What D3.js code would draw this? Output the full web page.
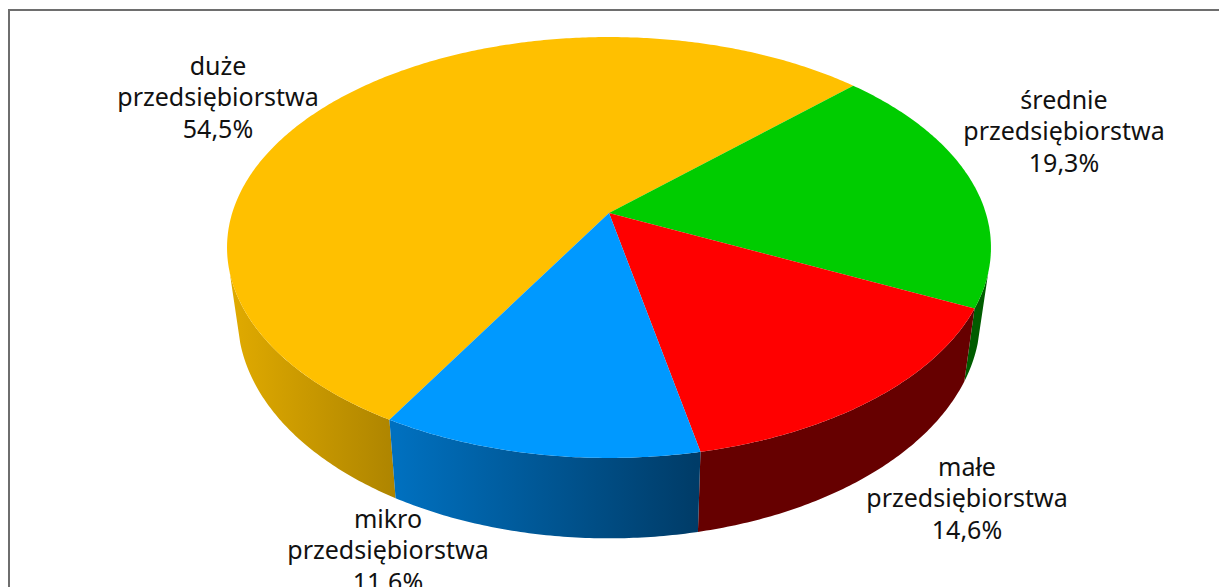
<!DOCTYPE html>
<html>
<head>
<meta charset="utf-8">
<script src="https://cdn.jsdelivr.net/npm/d3@7"></script>
<style>
    html, body { margin: 0; padding: 0; background: #fff; overflow: hidden; }
    text { font-family: "Noto Sans", sans-serif; font-size: 25px; fill: #111; }
</style>
</head>
<body>
<div id="chart"></div>
<script>
// values
var categories = ["duże", "średnie", "małe", "mikro"]
var shares = [54.5, 19.3, 14.6, 11.6]
var secondLine = "przedsiębiorstwa"

var topColors = ["#FFC000", "#00CC00", "#FF0000", "#0099FF"]
var wallLeft = ["#e0aa00", "#005c00", "#660000", "#0070bf"]
var wallRight = ["#ad8400", "#005c00", "#660000", "#003c68"]
var wallX = [[232, 397], [965, 985], [696, 965], [397, 696]]
var labelPos = [[218, 75], [1064, 109], [967, 476], [388, 528]]

var w = 1219
var h = 587

// disc to screen: perspective so the pie centre sits above the ellipse centre
var apexX = 609
var apexY = 213
var k = 0.1639
var a = 204.8
var b = 376.8

function project(angle) {
    var u = Math.sin(angle)
    var v = -Math.cos(angle)
    var d = 1 - k * v
    return [apexX + b * u / d, apexY + a * v / d]
}

// bottom rim is the top rim narrowed a bit and pushed down
var bottomX = d3.scaleLinear().domain([apexX - 100, apexX + 100]).range([apexX - 97.2, apexX + 97.2])
var bottomY = d3.scaleLinear().domain([0, 100]).range([57.5, 162.5])

function projectBottom(angle) {
    var p = project(angle)
    return [bottomX(p[0]), bottomY(p[1])]
}

function sample(from, to) {
    var n = Math.max(2, Math.ceil(Math.abs(to - from) / 0.01))
    return d3.range(n + 1).map(i => from + (to - from) * i / n)
}

var svg = d3.select("#chart")
    .append("svg")
    .attr("width", w)
    .attr("height", h)
    .style("display", "block")

// frame runs off the right and bottom of the picture
svg.append("rect")
    .attr("x", 9)
    .attr("y", 10)
    .attr("width", 1300)
    .attr("height", 700)
    .attr("fill", "#fff")
    .attr("stroke", "#6e6e6e")
    .attr("stroke-width", 2)

var pie = d3.pie().sort(null)
    .startAngle(210 * Math.PI / 180)
    .endAngle(570 * Math.PI / 180)
var slices = pie(shares)
var line = d3.line()

var defs = svg.append("defs")
slices.forEach((s, i) => {
    var g = defs.append("linearGradient")
        .attr("id", "wall" + i)
        .attr("gradientUnits", "userSpaceOnUse")
        .attr("x1", wallX[i][0]).attr("x2", wallX[i][1])
        .attr("y1", 0).attr("y2", 0)
    g.append("stop").attr("offset", 0).attr("stop-color", wallLeft[i])
    g.append("stop").attr("offset", 1).attr("stop-color", wallRight[i])
})

// only the front of the rim is seen, its ends make the straight side edges
var frontStart = 106 * Math.PI / 180
var frontEnd = 254 * Math.PI / 180
function frontPart(s) {
    var ranges = []
    ;[0, 2 * Math.PI, -2 * Math.PI].forEach(off => {
        var from = Math.max(s.startAngle + off, frontStart)
        var to = Math.min(s.endAngle + off, frontEnd)
        if (to > from) ranges.push([from, to])
    })
    return ranges
}

slices.forEach((s, i) => {
    frontPart(s).forEach(r => {
        var angles = sample(r[0], r[1])
        var pts = angles.map(project).concat(angles.slice().reverse().map(projectBottom))
        svg.append("path")
            .attr("d", line(pts) + "Z")
            .attr("fill", `url(#wall${i})`)
    })
})

slices.forEach((s, i) => {
    var pts = sample(s.startAngle, s.endAngle).map(project)
    svg.append("path")
        .attr("d", line([[apexX, apexY]].concat(pts)) + "Z")
        .attr("fill", topColors[i])
})

var lineGap = 31.3
categories.forEach((c, i) => {
    var t = svg.append("text")
        .attr("text-anchor", "middle")
        .attr("x", labelPos[i][0])
        .attr("y", labelPos[i][1])
    t.append("tspan").attr("x", labelPos[i][0]).text(c)
    t.append("tspan").attr("x", labelPos[i][0]).attr("dy", lineGap).text(secondLine)
    t.append("tspan").attr("x", labelPos[i][0]).attr("dy", lineGap)
        .text(shares[i].toFixed(1).replace(".", ",") + "%")
})
</script>
</body>
</html>
